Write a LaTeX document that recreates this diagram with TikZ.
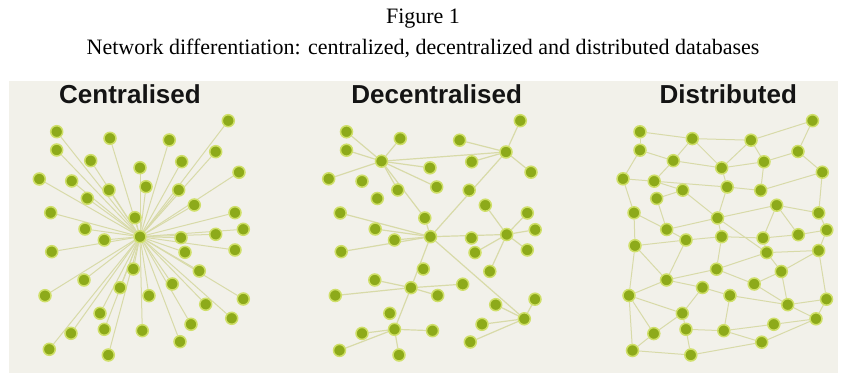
\documentclass[tikz,border=0pt]{standalone}
\usepackage{fontspec}
\setmainfont{Liberation Serif}
\newfontfamily\headfont{Liberation Sans}
\definecolor{panelbg}{HTML}{F2F1EA}
\definecolor{nodegreen}{HTML}{8DAA1A}
\definecolor{halo}{HTML}{CFDF68}
\definecolor{edgecol}{HTML}{D8DAA8}
\pgfdeclarelayer{bg}
\pgfsetlayers{bg,main}
\begin{document}
\begin{tikzpicture}[x=1pt,y=-1pt,
  dot/.style={circle,fill=nodegreen,draw=halo,line width=1.5pt,minimum size=12pt,inner sep=0pt},
  link/.style={draw=edgecol,line width=1pt},
  head/.style={font=\headfont\bfseries\fontsize{26}{28}\selectfont,text=black!92,inner sep=0pt},
  caption/.style={font=\fontsize{22}{24}\selectfont,inner sep=0pt}]
\useasboundingbox (0,0) rectangle (846,374);
\begin{pgfonlayer}{bg}
\fill[panelbg] (9,81) rectangle (838,373);
\end{pgfonlayer}
% titles
\node[caption] (fig) at (423,19) {Figure 1};
\node[caption] (cap) at (423,48) {Network differentiation: centralized, decentralized and distributed databases};
\node[head] (hc) at (130,94) {Centralised};
\node[head] (hd) at (436.7,94) {Decentralised};
\node[head] (hs) at (728.3,94) {Distributed};
% ---------- centralised ----------
\node[dot] (c0) at (140,236.7) {};
\foreach \x/\y [count=\i] in {228.3/120.7,56.7/131.7,110/138.3,169.3/140,56.7/150,215.7/151.7,90.7/160.7,181.7/161.7,140/167.7,239/172.3,39.3/179,71.7/181,109/190,146/186.7,178.7/190,87.3/198.3,194.3/205,50.7/212.7,235/212.7,135/217.7,85/229,243.3/229.3,215.7/234.3,181/237.7,104.3/240,51.7/251.7,235/250,185/252.3,133.3/269,199.3/271,84/280,120/287.7,172.3/284,45/295.7,149/295.7,243.3/299,205.7/304.3,100/313.3,231.7/318.3,191/324.3,71/333.3,104.3/329.3,142.3/330.7,180/341.7,49.3/349.3,108.3/355}{
  \node[dot] (c\i) at (\x,\y) {};
  \begin{pgfonlayer}{bg}\draw[link] (c0) -- (c\i);\end{pgfonlayer}
}
% ---------- decentralised ----------
\foreach \n/\x/\y in {H1/381.5/161.2,H2/506/152,C/430.5/236.7,H3/506.7/234.5,H4/411/287.7,H5/394.5/329.3,H6/524.3/318.8,
  a/346.5/131.8,b/400.3/138.5,c/520.3/120.7,d/459.6/140.2,e/346.5/150.2,f/471.7/161.8,g/430/167.8,h/531/172.2,
  i/328.7/178.8,j/362/181.2,k/397.8/190,l/436.7/187,m/469.2/190.2,n/377.3/198.5,o/485.3/205.2,p/340.2/213,
  q/527.3/213,r/424.8/218,s/375.2/229,t/535.2/229.7,u/394.5/240,v/471.5/238,w/341.2/251.7,x/527.3/250,
  y/475/252.6,z/423.3/269,aa/489.8/271.4,bb/374.8/280,cc/462.7/284.2,dd/335.3/295.5,ee/437.7/295.5,
  ff/535/299.2,gg/495.7/304.7,hh/389.8/313.3,ii/482/324.3,jj/362/333.4,kk/432.5/330.7,ll/470.3/342,
  mm/339.5/350.4,nn/399/355}{
  \node[dot] (d\n) at (\x,\y) {};
}
\begin{pgfonlayer}{bg}
\foreach \a/\b in {H1/a,H1/e,H1/b,H1/i,H1/g,H1/l,H1/k,H1/r,r/C,H1/H2,H2/c,H2/d,H2/f,H2/h,H2/C,
  C/p,C/s,C/u,C/w,C/H3,C/H4,C/H6,H3/o,H3/q,H3/t,H3/x,H3/y,H3/aa,H4/bb,H4/cc,H4/dd,H4/ee,H4/H5,
  H5/jj,H5/kk,H5/mm,H5/nn,H6/ff,H6/gg,H6/ii,H6/ll}{
  \draw[link,line width=1.2pt] (d\a) -- (d\b);
}
\end{pgfonlayer}
% ---------- distributed ----------
\foreach \n/\x/\y in {1/812.5/120.7,2/640/131.8,3/692.3/138.6,4/751/140.2,5/640/150.2,6/798/151.5,7/673.3/160.7,
  8/764/161.8,9/721.7/167.9,10/822.3/172.2,11/623/178.8,12/654.2/181.2,13/682.7/190.2,14/727.2/187,
  15/760.7/190.4,16/656.7/198.5,17/776.7/205.2,18/634/212.8,19/818.7/212.9,20/717.5/218,21/666.7/229.5,
  22/826.8/230,23/798.3/234.7,24/763/238,25/686/240,26/635/245.7,C/721.7/236.7,27/818.7/250.5,
  28/766.7/252.6,29/716.5/269.2,30/781.3/271.5,31/666.5/280,32/702.5/287.5,33/754.2/284,34/629/295.5,
  35/730/295.5,36/826.5/299.2,37/787.7/304.7,38/682.3/313.3,39/816/318.8,40/773.8/324.3,41/653.8/333.6,
  42/686/329.3,43/723.8/330.7,44/761.7/342.2,45/632.5/350.5,46/690.8/355}{
  \node[dot] (s\n) at (\x,\y) {};
}
\begin{pgfonlayer}{bg}
\foreach \a/\b in {2/3,2/5,3/4,4/1,1/6,6/10,4/9,4/8,3/9,3/7,5/7,5/11,7/9,7/12,8/6,8/9,8/15,9/14,
  11/12,12/13,12/14,13/16,14/15,15/10,11/18,16/21,18/21,13/20,14/20,20/17,17/19,10/19,19/22,17/24,
  17/23,23/22,20/21,20/C,20/28,21/25,25/26,18/26,25/C,C/24,24/23,24/28,28/27,27/22,28/30,30/27,
  30/37,29/33,29/28,33/30,33/37,35/37,37/36,36/27,37/39,36/39,39/40,39/44,43/40,43/44,43/35,44/46,
  26/31,25/31,C/29,31/29,31/34,31/32,26/34,34/38,32/38,32/35,38/41,38/42,34/41,34/45,42/43,42/46,
  45/46,41/45}{
  \draw[link] (s\a) -- (s\b);
}
\end{pgfonlayer}
\end{tikzpicture}
\end{document}
